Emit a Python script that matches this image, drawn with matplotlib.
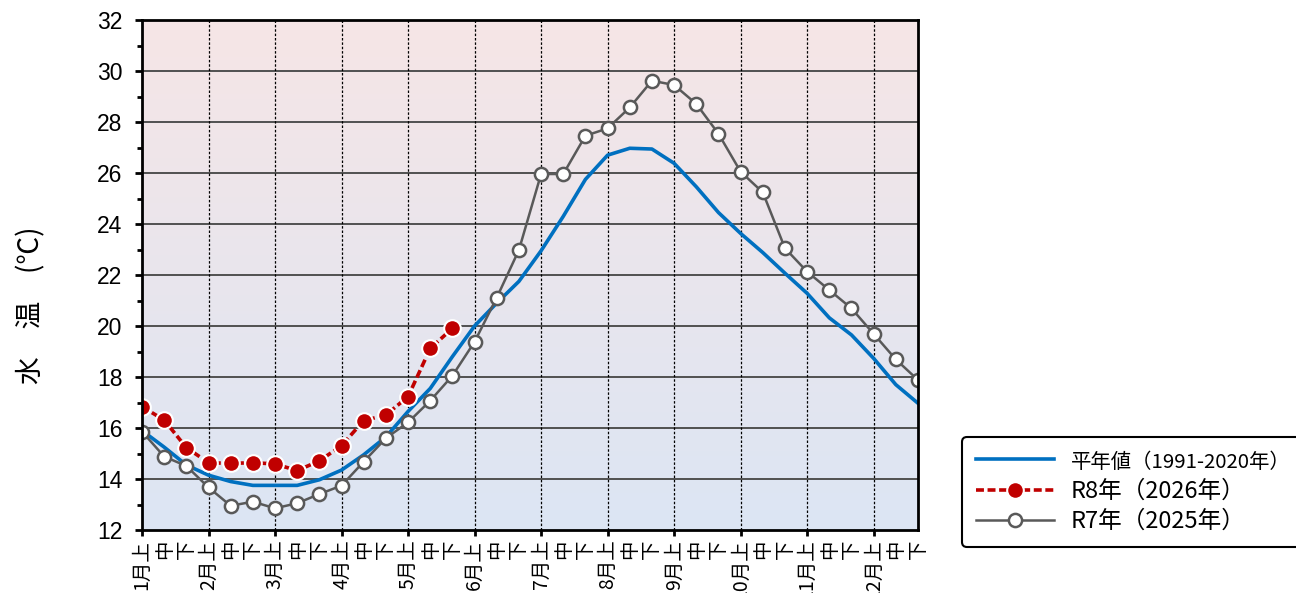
import numpy as np
import matplotlib.pyplot as plt
from matplotlib.colors import LinearSegmentedColormap

plt.rcParams['font.family'] = ['Liberation Sans', 'Noto Sans CJK JP', 'DejaVu Sans']

# dekads: 上 / 中 / 下 for each month
months = [f'{m}月' for m in range(1, 13)]
dekads = ['上', '中', '下']
tick_labels = [(mo + d) if d == '上' else d for mo in months for d in dekads]

# 平年値 (1991-2020)
normal = [15.9, 15.25, 14.55, 14.15, 13.9, 13.75, 13.75, 13.75, 13.97, 14.35, 14.95, 15.65,
          16.65, 17.55, 18.8, 20.0, 20.9, 21.75, 22.95, 24.3, 25.75, 26.7, 26.97, 26.94,
          26.38, 25.46, 24.45, 23.63, 22.88, 22.07, 21.28, 20.32, 19.65, 18.73, 17.7, 16.97]

# R8年 (2026)
r8 = [16.84, 16.31, 15.23, 14.64, 14.61, 14.64, 14.59, 14.33, 14.71, 15.31, 16.29, 16.51,
      17.23, 19.12, 19.91]

# R7年 (2025)
r7 = [15.86, 14.88, 14.51, 13.67, 12.95, 13.11, 12.85, 13.05, 13.41, 13.74, 14.68, 15.6,
      16.22, 17.07, 18.05, 19.38, 21.11, 22.98, 25.96, 25.96, 27.46, 27.75, 28.57, 29.62,
      29.45, 28.71, 27.54, 26.05, 25.24, 23.05, 22.13, 21.41, 20.69, 19.69, 18.69, 17.88]

x = np.arange(len(tick_labels))

fig = plt.figure(figsize=(12.96, 5.93), dpi=100)
ax = fig.add_axes([142 / 1296, 63 / 593, 776 / 1296, 510 / 593])

# background gradient pink (top) -> light blue (bottom)
cmap = LinearSegmentedColormap.from_list('bg', ['#dce6f4', '#f6e5e6'])
ax.imshow(np.linspace(0, 1, 256).reshape(-1, 1), cmap=cmap, origin='lower',
          extent=[0, 35, 12, 32], aspect='auto', zorder=0)

# grid
for yv in range(14, 32, 2):
    ax.axhline(yv, color='#505050', lw=1.4, zorder=1)
for xv in range(3, 35, 3):
    ax.axvline(xv, color='black', lw=0.9, linestyle=(0, (2, 1.5)), zorder=1)

ax.plot(x, normal, color='#0070C0', lw=2.6, zorder=3, label='平年値（1991-2020年）')
ax.plot(x[:len(r8)], r8, color='#C00000', lw=2.6, linestyle=(0, (2.2, 1.0)),
        marker='o', markersize=12, markerfacecolor='#C00000', markeredgecolor='white',
        markeredgewidth=1.5, zorder=5, label='R8年（2026年）')
ax.plot(x, r7, color='#595959', lw=1.8, marker='o', markersize=9.5,
        markerfacecolor='white', markeredgecolor='#595959', markeredgewidth=1.8,
        zorder=4, label='R7年（2025年）')

ax.set_xlim(0, 35)
ax.set_ylim(12, 32)
ax.set_yticks(range(12, 33, 2))
ax.set_yticks(range(13, 32, 2), minor=True)
ax.set_xticks(x)
ax.set_xticklabels(tick_labels, rotation=90, fontsize=14,
                   family=['Noto Sans CJK JP', 'DejaVu Sans'])
for i, t in enumerate(ax.xaxis.get_major_ticks()):
    if i % 3 != 0:
        t.tick1line.set_visible(False)
ax.tick_params(axis='x', length=4, width=2, pad=3)
ax.tick_params(axis='y', which='major', length=5, width=2, labelsize=16.5, pad=9)
ax.tick_params(axis='y', which='minor', length=3.6, width=2)
for s in ax.spines.values():
    s.set_linewidth(2)
    s.set_color('black')
    s.set_zorder(6)

fig.text(31 / 1296, 1 - 305 / 593, '水　温　(℃)', rotation=90, fontsize=20,
         ha='center', va='center', family=['Noto Sans CJK JP', 'DejaVu Sans'])

leg = fig.legend(loc='upper left', bbox_to_anchor=(962 / 1296, 1 - 437 / 593),
                 prop={'family': ['Noto Sans CJK JP', 'DejaVu Sans'], 'size': 17},
                 handlelength=3.3, handletextpad=0.7, labelspacing=0.3,
                 borderpad=0.6, frameon=True, fancybox=True, edgecolor='black',
                 framealpha=1, borderaxespad=0)
leg.get_frame().set_linewidth(1.5)
leg.get_texts()[0].set_fontsize(14.7)

fig.savefig('out.png', dpi=100)
